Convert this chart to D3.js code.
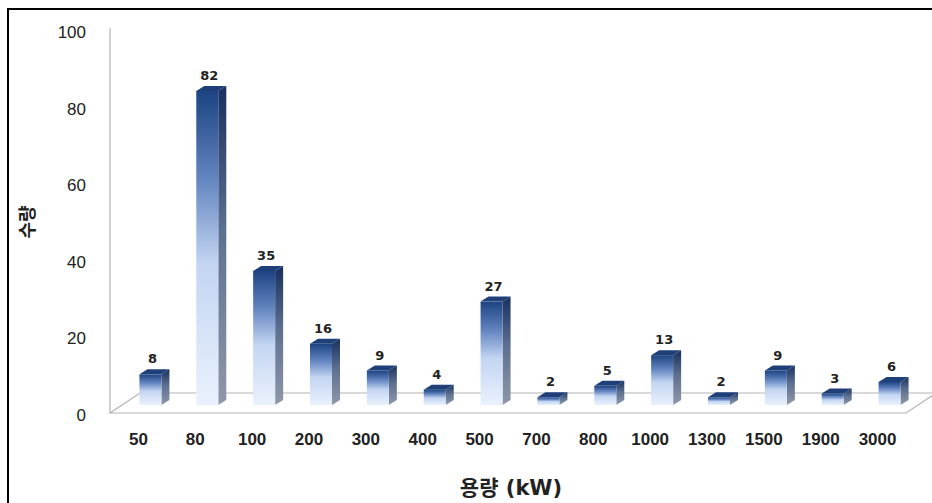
<!DOCTYPE html>
<html>
<head>
<meta charset="utf-8">
<script src="https://cdn.jsdelivr.net/npm/d3@7"></script>
<style>
  body { margin: 0; background: #fff; }
  svg { display: block; font-family: "DejaVu Sans", "Noto Sans CJK KR", sans-serif; }
  .axis text { fill: #222; }
  .axis path, .axis line { display: none; }
</style>
</head>
<body>
<svg id="chart"></svg>
<script>
// capacity classes (kW) and number of units
const categories = ['50', '80', '100', '200', '300', '400', '500', '700', '800', '1000', '1300', '1500', '1900', '3000'];
const counts = [8, 82, 35, 16, 9, 4, 27, 2, 5, 13, 2, 9, 3, 6];
const yTicks = [0, 20, 40, 60, 80, 100];

const width = 932, height = 503;
const plot = {left: 110, right: 906, top: 30, bottom: 413};

// 3d look: floor depth and where the bars sit in it
const floorDepth = {dx: 30, dy: -20};
const barShift = {dx: 12, dy: -8};
const barDepth = {dx: 8, dy: -5};
const faceWidth = 22;

const data = categories.map((c, i) => ({cat: c, value: counts[i]}));

const svg = d3.select('#chart')
    .attr('width', width)
    .attr('height', height);

// frame (the right and bottom edges fall outside the picture)
svg.append('rect')
    .attr('x', 8).attr('y', 9)
    .attr('width', width).attr('height', height)
    .attr('fill', 'none')
    .attr('stroke', '#000')
    .attr('stroke-width', 2);

const x = d3.scaleBand()
    .domain(categories)
    .range([plot.left, plot.right]);

const y = d3.scaleLinear()
    .domain([0, 100])
    .range([plot.bottom, plot.top]);

// gradients
const defs = svg.append('defs');
const front = defs.append('linearGradient')
    .attr('id', 'gFront').attr('x1', 0).attr('y1', 0).attr('x2', 0).attr('y2', 1);
[[0, '#1d4382'], [0.28, '#6385c0'], [0.55, '#c3d5f2'], [1, '#eaf1fd']].forEach(s =>
  front.append('stop').attr('offset', s[0]).attr('stop-color', s[1]));
const side = defs.append('linearGradient')
    .attr('id', 'gSide').attr('x1', 0).attr('y1', 0).attr('x2', 0).attr('y2', 1);
[[0, '#17305d'], [0.45, '#5d6f90'], [1, '#8f98a8']].forEach(s =>
  side.append('stop').attr('offset', s[0]).attr('stop-color', s[1]));

// floor and left wall edge
svg.append('polygon')
    .attr('points', [
      [plot.left, plot.bottom],
      [plot.right, plot.bottom],
      [plot.right + floorDepth.dx, plot.bottom + floorDepth.dy],
      [plot.left + floorDepth.dx, plot.bottom + floorDepth.dy]
    ].join(' '))
    .attr('fill', '#fff')
    .attr('stroke', '#b4b4b4')
    .attr('stroke-width', 1.2);

svg.append('line')
    .attr('x1', plot.left).attr('x2', plot.left)
    .attr('y1', y(100) - 2).attr('y2', plot.bottom)
    .attr('stroke', '#b4b4b4')
    .attr('stroke-width', 1.2);

// bar geometry
const x0 = d => x(d.cat) + x.bandwidth() / 2 + barShift.dx - faceWidth / 2;
const x1 = d => x0(d) + faceWidth;
const yTop = d => y(d.value) + barShift.dy;
const yBase = y(0) + barShift.dy;

const bars = svg.append('g').selectAll('g')
    .data(data)
    .join('g');

bars.append('polygon')
    .attr('points', d => [
      [x1(d), yTop(d)],
      [x1(d) + barDepth.dx, yTop(d) + barDepth.dy],
      [x1(d) + barDepth.dx, yBase + barDepth.dy],
      [x1(d), yBase]
    ].join(' '))
    .attr('fill', 'url(#gSide)');

bars.append('polygon')
    .attr('points', d => [
      [x0(d), yTop(d)],
      [x0(d) + barDepth.dx, yTop(d) + barDepth.dy],
      [x1(d) + barDepth.dx, yTop(d) + barDepth.dy],
      [x1(d), yTop(d)]
    ].join(' '))
    .attr('fill', '#1f3f78');

bars.append('rect')
    .attr('x', x0)
    .attr('y', yTop)
    .attr('width', faceWidth)
    .attr('height', d => yBase - yTop(d))
    .attr('fill', 'url(#gFront)');

bars.append('text')
    .attr('x', d => (x0(d) + x1(d)) / 2 + 2)
    .attr('y', d => yTop(d) + barDepth.dy - 6)
    .attr('text-anchor', 'middle')
    .attr('font-size', 13)
    .attr('font-weight', 'bold')
    .attr('fill', '#222')
    .text(d => d.value);

// axes
svg.append('g')
    .attr('class', 'axis')
    .attr('transform', `translate(${plot.left - 24},2)`)
    .call(d3.axisLeft(y).tickValues(yTicks).tickSize(0).tickPadding(0))
    .selectAll('text')
    .attr('font-size', 17);

svg.append('g')
    .attr('class', 'axis')
    .attr('transform', `translate(0,${plot.bottom})`)
    .call(d3.axisBottom(x).tickSize(0).tickPadding(20))
    .selectAll('text')
    .attr('font-size', 17)
    .attr('font-weight', 'bold');

svg.selectAll('.axis .domain').remove();

// axis titles
svg.append('text')
    .attr('transform', 'translate(34,222) rotate(-90)')
    .attr('text-anchor', 'middle')
    .attr('font-size', 18)
    .attr('font-weight', 'bold')
    .attr('fill', '#222')
    .text('수량');

svg.append('text')
    .attr('x', 511)
    .attr('y', 495)
    .attr('text-anchor', 'middle')
    .attr('font-size', 21)
    .attr('font-weight', 'bold')
    .attr('fill', '#222')
    .text('용량 (kW)');
</script>
</body>
</html>
